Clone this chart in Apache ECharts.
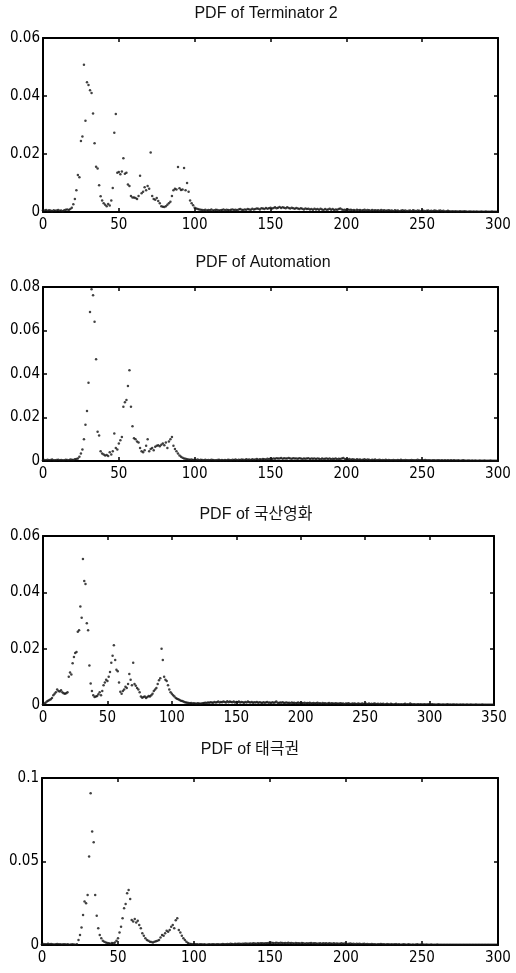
<!DOCTYPE html>
<html><head><meta charset="utf-8">
<script src="https://cdn.jsdelivr.net/npm/echarts@6/dist/echarts.min.js"></script>
<style>html,body{margin:0;padding:0;background:#fff}#c{width:516px;height:973px}</style>
</head><body><div id="c"></div>
<script>
// ---- chart text ----
const titles = ['PDF of Terminator 2', 'PDF of Automation', 'PDF of 국산영화', 'PDF of 태극권'];
const xMaxes = [300, 300, 350, 300];
const yMaxes = [0.06, 0.08, 0.06, 0.1];
const yIntervals = [0.02, 0.02, 0.02, 0.05];
const xInterval = 50;

// ---- PDF values in units of 1e-4, sampled at x = 0, 1, 2, ... ----
const t2Pdf = [
  6,5,7,4,6,5,3,6,4,5,7,4,5,3,6,8,9,7,10,15,
  27,45,75,128,120,245,260,508,315,447,
  438,420,410,340,237,156,150,92,54,40,
  30,25,20,28,22,40,83,273,338,135,
  138,130,140,185,132,135,95,90,55,50,
  50,48,45,55,125,65,70,85,75,90,
  80,205,55,45,42,48,38,30,20,18,
  17,20,25,30,35,55,75,80,78,155,
  82,76,78,152,75,100,70,40,30,23,
  15,12,10,9,8,
  7,6,8,5,7,6,9,5,6,8,7,5,6,7,9,6,8,7,6,8,9,7,8,6,9,10,8,7,9,8,10,9,8,11,9,
  10,12,11,9,13,12,10,14,11,13,15,12,14,16,13,15,17,14,16,15,13,16,14,12,15,13,11,14,12,10,13,11,9,12,10,11,9,10,8,11,
  9,10,8,11,9,7,10,8,9,11,8,10,7,9,8,10,12,9,7,8,6,9,7,8,6,7,5,8,6,7,5,6,8,5,7,6,4,7,5,6,
  5,6,4,7,5,6,4,5,6,4,5,3,6,4,5,3,4,6,4,5,3,4,5,3,6,4,3,5,4,3,5,4,3,4,5,3,4,3,5,4,
  3,4,5,3,4,2,3,4,3,2,3,2,3,2,2,3,2,2,3,2,1,2,2,1,2,1,2,1,1,2,1,1,2,1,1,1,2,1,1,1
];
const automationPdf = [
  4,5,3,6,4,5,7,4,3,5,6,4,5,3,4,6,5,4,7,6,5,8,9,
  12,20,35,53,100,167,230,
  360,685,790,762,640,468,135,117,45,35,
  30,25,28,23,40,30,45,126,60,53,
  80,95,110,250,270,280,345,417,250,160,
  105,100,90,85,60,45,40,50,70,100,
  45,55,60,50,65,70,72,68,75,80,
  72,85,60,90,100,110,70,55,45,35,
  25,20,15,12,10,8,7,6,7,5,
  6,5,7,4,6,5,4,6,3,5,4,6,5,3,4,5,6,4,5,3,5,4,6,5,4,6,5,7,4,6,5,7,6,5,8,6,7,5,8,6,7,9,6,8,7,9,8,7,10,8,
  11,9,12,10,13,11,12,14,10,13,12,11,14,12,10,13,11,12,10,13,11,9,12,10,11,13,9,12,10,11,9,12,10,8,11,9,10,12,9,11,8,10,9,11,8,10,9,12,14,9,
  8,7,9,6,8,7,5,8,6,7,5,6,8,5,7,6,4,6,5,7,4,5,6,4,5,3,6,4,5,4,3,5,4,3,5,4,6,3,4,5,3,4,3,5,4,3,4,6,3,4,
  3,4,5,3,4,3,2,4,3,2,3,4,2,3,2,3,2,4,2,3,2,3,2,2,3,1,2,3,2,1,2,2,1,2,1,2,1,1,2,1,1,2,1,1,1,2,1,1,1,1
];
const koreanFilmPdf = [
  3,5,8,12,15,18,20,25,35,40,
  45,55,50,48,52,45,42,40,42,45,
  100,115,108,148,170,185,188,260,265,350,
  310,518,440,430,290,265,140,76,50,35,
  28,30,32,38,45,35,50,70,80,90,
  85,100,117,150,175,212,160,125,120,80,
  47,40,50,55,65,60,75,110,90,70,
  150,75,68,60,55,45,30,26,28,30,
  25,28,32,30,35,40,50,55,60,75,
  88,95,200,160,100,90,85,70,55,45,
  40,35,30,25,22,20,18,15,14,12,10,
  9,8,7,6,7,5,6,5,4,6,5,4,5,6,7,8,7,9,8,10,9,8,11,9,10,12,9,11,10,12,11,9,13,10,12,11,10,12,9,11,
  10,12,9,11,10,8,11,9,12,10,9,11,8,10,9,11,8,10,9,7,10,8,9,11,8,9,7,10,8,9,12,8,7,9,8,10,7,8,9,7,8,6,9,7,8,6,7,9,6,8,
  7,6,8,5,7,6,8,5,6,7,5,6,8,5,6,4,7,5,6,4,5,7,4,6,5,4,6,5,4,5,6,4,5,3,5,4,6,4,3,5,4,5,3,4,5,3,4,5,3,4,
  4,3,5,3,4,3,5,4,3,4,2,4,3,4,2,3,4,3,2,4,3,2,3,4,2,3,2,3,2,3,4,2,3,2,5,3,2,3,2,2,3,2,3,2,2,3,2,2,3,2,
  2,3,2,2,1,2,3,2,1,2,2,1,2,3,1,2,1,2,2,1,2,1,1,2,1,2,1,1,2,1,1,2,1,1,1,2,1,1,1,1,2,1,1,1,1,1,1,1,1
];
const taekwonPdf = [
  5,6,4,5,7,4,6,5,3,5,6,4,5,3,4,5,3,4,2,3,4,3,2,
  5,30,60,105,180,260,250,
  300,530,908,680,615,300,175,100,60,40,
  25,20,15,12,10,8,12,10,15,25,
  40,75,110,160,220,245,310,330,275,150,
  140,155,135,145,120,100,70,55,40,30,
  25,20,18,15,20,22,25,30,45,60,
  55,70,85,80,90,110,120,100,148,160,
  90,75,55,40,30,20,12,8,6,5,
  6,4,5,3,4,5,3,4,2,3,4,3,5,4,3,4,5,3,4,6,5,4,6,5,7,6,5,7,6,8,7,6,8,7,9,8,7,9,8,10,9,8,10,9,11,10,9,11,10,12,
  11,13,12,10,14,12,11,13,12,10,12,11,13,10,12,11,9,12,10,11,9,12,10,8,11,9,10,12,9,11,10,8,9,11,8,10,9,11,8,10,9,7,10,8,9,7,8,10,7,9,
  8,6,7,9,6,8,5,7,6,8,5,6,7,5,6,4,5,6,4,5,3,5,4,6,4,5,3,4,5,3,4,3,5,4,3,4,2,3,4,3,2,4,3,2,3,2,3,4,2,3,
  2,3,2,3,2,2,3,2,1,2,3,2,1,2,2,1,2,1,2,1,1,2,1,1,2,1,1,1,2,1,1,1,1,2,1,1,1,1,1,1,1,1,1,1,1,1,1,1,1,1
];
const allPdfs = [t2Pdf, automationPdf, koreanFilmPdf, taekwonPdf];

// ---- layout ----
const grids = [
  {left: 43, top: 38, width: 455, height: 174},
  {left: 43, top: 287, width: 455, height: 174},
  {left: 43, top: 536, width: 451, height: 169},
  {left: 42, top: 778, width: 456, height: 167}
];
const titlePos = [[266, 6], [263, 255], [256, 507], [250, 742]];

const numFont = "'Liberation Sans Narrow','DejaVu Sans Condensed','Liberation Sans',sans-serif";
const titleFont = "'Liberation Sans','Noto Sans CJK KR',sans-serif";
const black = '#000';

const option = {
  backgroundColor: '#fff',
  animation: false,
  title: titles.map((t, i) => ({
    text: t, left: titlePos[i][0], top: titlePos[i][1], textAlign: 'center', padding: 0,
    textStyle: {fontFamily: titleFont, fontSize: 16, fontWeight: 'normal', color: '#111'}
  })),
  grid: grids.map(g => Object.assign({containLabel: false}, g)),
  xAxis: [], yAxis: [], series: []
};

grids.forEach((g, i) => {
  const common = {
    type: 'value', gridIndex: i, min: 0, max: xMaxes[i], interval: xInterval,
    splitLine: {show: false},
    axisLine: {show: true, onZero: false, lineStyle: {color: black, width: 2}},
    axisTick: {show: true, inside: true, length: 4, lineStyle: {color: black, width: 1.5}}
  };
  option.xAxis.push(Object.assign({}, common, {
    position: 'bottom',
    axisLabel: {show: true, margin: 6, color: black, fontFamily: numFont, fontSize: 15}
  }));
  option.xAxis.push(Object.assign({}, common, {position: 'top', axisLabel: {show: false}}));
  const ycommon = {
    type: 'value', gridIndex: i, min: 0, max: yMaxes[i], interval: yIntervals[i],
    splitLine: {show: false},
    axisLine: {show: true, onZero: false, lineStyle: {color: black, width: 2}},
    axisTick: {show: true, inside: true, length: 4, lineStyle: {color: black, width: 1.5}}
  };
  option.yAxis.push(Object.assign({}, ycommon, {
    position: 'left',
    axisLabel: {show: true, margin: 3, color: black, fontFamily: numFont, fontSize: 15}
  }));
  option.yAxis.push(Object.assign({}, ycommon, {position: 'right', axisLabel: {show: false}}));
  option.series.push({
    type: 'scatter', xAxisIndex: 2 * i, yAxisIndex: 2 * i,
    symbol: 'circle', symbolSize: 2.5,
    itemStyle: {color: '#111'},
    data: allPdfs[i].map((v, k) => [k, v / 10000])
  });
});

const chart = echarts.init(document.getElementById('c'), null, {renderer: 'canvas'});
chart.setOption(option);
</script>
</body></html>
